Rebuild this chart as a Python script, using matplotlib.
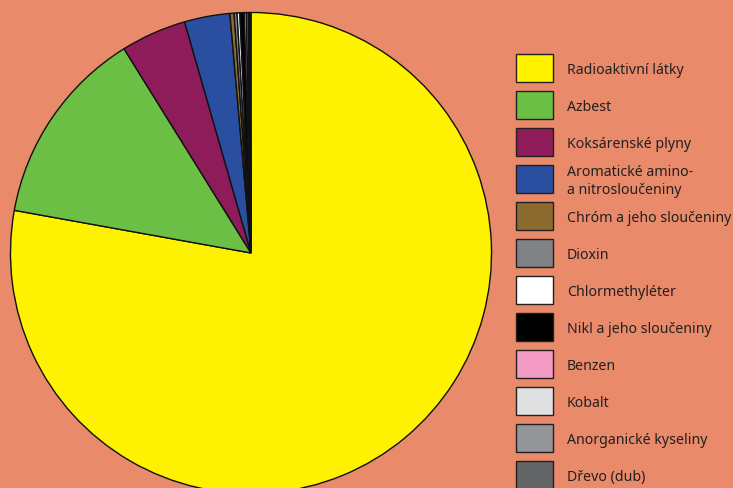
import matplotlib
matplotlib.use("Agg")
import matplotlib.pyplot as plt
from matplotlib.patches import Rectangle

categories = ["Radioaktivní látky", "Azbest", "Koksárenské plyny",
              "Aromatické amino-\na nitrosloučeniny", "Chróm a jeho sloučeniny",
              "Dioxin", "Chlormethyléter", "Nikl a jeho sloučeniny", "Benzen",
              "Kobalt", "Anorganické kyseliny", "Dřevo (dub)"]
values = [77.8, 13.3, 4.4, 3.05, 0.28, 0.2, 0.18, 0.3, 0.14, 0.12, 0.1, 0.08]
colors = ["#FFF200", "#6CBF45", "#8E1C5A", "#2B4FA0", "#8B6B2E", "#808285",
          "#FFFFFF", "#000000", "#F39BC3", "#DFE0E1", "#939598", "#636466"]

BG = "#E98B6A"
W, H = 733, 488
fig = plt.figure(figsize=(W / 100, H / 100), dpi=100, facecolor=BG)

cx, cy, r = 251, 253, 241
ax = fig.add_axes([(cx - r) / W, (H - cy - r) / H, 2 * r / W, 2 * r / H])
ax.set_facecolor(BG)
ax.pie(values, colors=colors, startangle=90, counterclock=False, radius=1,
       wedgeprops=dict(edgecolor="#111111", linewidth=1.0))
ax.set_xlim(-1.002, 1.002)
ax.set_ylim(-1.002, 1.002)
ax.set_aspect("equal")
ax.axis("off")

# legend
bx, bw, bh = 516, 37, 28
by0, pitch = 54, 37
tx = 567
for i, (lab, col) in enumerate(zip(categories, colors)):
    top = by0 + i * pitch
    fig.patches.append(Rectangle((bx / W, 1 - (top + bh) / H), bw / W, bh / H,
                                 transform=fig.transFigure, facecolor=col,
                                 edgecolor="#231F20", linewidth=1.0))
    fig.text(tx / W, 1 - (top + bh / 2 + 2.5) / H, lab, ha="left", va="center",
             fontsize=10.2, family="Noto Sans", color="#231F20", linespacing=1.3)

fig.savefig("out.png", dpi=100, facecolor=BG)
